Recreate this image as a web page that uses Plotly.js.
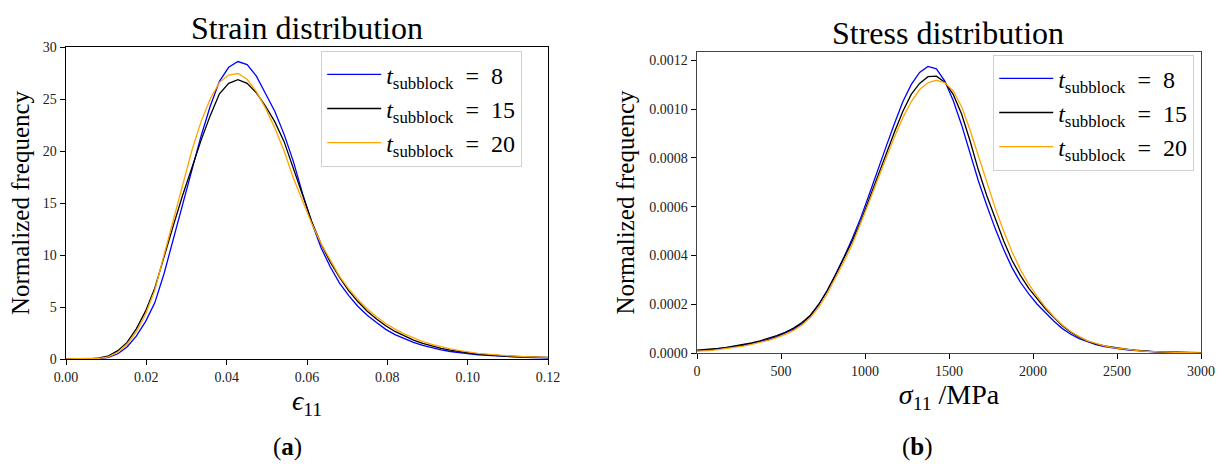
<!DOCTYPE html>
<html>
<head>
<meta charset="utf-8">
<script src="https://cdn.plot.ly/plotly-3.0.1.min.js"></script>
<style>html,body{margin:0;padding:0;background:#fff;}#chart{width:1220px;height:464px;}</style>
</head>
<body>
<div id="chart"></div>
<script>
// ---------- (a) Strain distribution ----------
const strainX = [
  -0.0009, 0.0014, 0.0037, 0.0060, 0.0083, 0.0106, 0.0129, 0.0152, 0.0175, 0.0198,
  0.0221, 0.0244, 0.0267, 0.0290, 0.0313, 0.0336, 0.0359, 0.0382, 0.0405, 0.0428,
  0.0451, 0.0474, 0.0497, 0.0520, 0.0543, 0.0566, 0.0589, 0.0612, 0.0635, 0.0658,
  0.0681, 0.0704, 0.0727, 0.0750, 0.0773, 0.0796, 0.0819, 0.0842, 0.0865, 0.0888,
  0.0911, 0.0934, 0.0957, 0.0980, 0.1003, 0.1026, 0.1049, 0.1072, 0.1095, 0.1118,
  0.1141, 0.1164, 0.1187, 0.1210
];
const strainT8 = [
  0, 0, 0, 0.01, 0.05, 0.15, 0.5, 1.15, 2.2, 3.6,
  5.4, 8.2, 11.5, 14.9, 18.2, 21.4, 24.3, 26.7, 28.05, 28.6,
  28.3, 27.2, 25.5, 23.8, 21.6, 19.0, 15.9, 13.1, 10.7, 8.85,
  7.3, 6.1, 5.05, 4.2, 3.5, 2.85, 2.35, 1.95, 1.6, 1.3,
  1.07, 0.88, 0.72, 0.6, 0.5, 0.41, 0.34, 0.28, 0.23, 0.19,
  0.16, 0.13, 0.11, 0.09
];
const strainT15 = [
  0, 0, 0, 0.02, 0.1, 0.3, 0.8, 1.6, 2.9, 4.6,
  6.8, 9.9, 12.8, 15.7, 18.4, 21.0, 23.4, 25.5, 26.5, 26.85,
  26.5, 25.6, 24.3, 22.8, 20.9, 18.4, 15.7, 13.2, 11.05, 9.3,
  7.85, 6.55, 5.5, 4.6, 3.85, 3.2, 2.65, 2.2, 1.82, 1.5,
  1.24, 1.03, 0.85, 0.7, 0.58, 0.48, 0.4, 0.33, 0.28, 0.24,
  0.2, 0.17, 0.15, 0.13
];
const strainT20 = [
  0, 0, 0, 0.01, 0.07, 0.2, 0.65, 1.4, 2.6, 4.3,
  6.6, 10.0, 13.4, 16.8, 20.0, 22.8, 25.0, 26.6, 27.3, 27.45,
  26.9, 25.7, 24.1, 22.2, 20.0, 17.4, 15.1, 13.0, 11.1, 9.45,
  7.95, 6.75, 5.72, 4.82, 4.07, 3.42, 2.87, 2.42, 2.02, 1.68,
  1.4, 1.17, 0.97, 0.8, 0.66, 0.55, 0.46, 0.38, 0.32, 0.27,
  0.23, 0.2, 0.17, 0.15
];

// ---------- (b) Stress distribution ----------
const stressX = [
  -25, 25, 75, 125, 175, 225, 275, 325, 375, 425,
  475, 525, 575, 625, 675, 725, 775, 825, 875, 925,
  975, 1025, 1075, 1125, 1175, 1225, 1275, 1325, 1375, 1425,
  1475, 1525, 1575, 1625, 1675, 1725, 1775, 1825, 1875, 1925,
  1975, 2025, 2075, 2125, 2175, 2225, 2275, 2325, 2375, 2425,
  2475, 2525, 2575, 2625, 2675, 2725, 2775, 2825, 2875, 2925,
  2975, 3025
];
const stressT8 = [
  0.09e-4, 0.10e-4, 0.13e-4, 0.17e-4, 0.21e-4, 0.26e-4, 0.31e-4, 0.38e-4, 0.46e-4, 0.56e-4,
  0.67e-4, 0.81e-4, 0.98e-4, 1.21e-4, 1.52e-4, 1.98e-4, 2.56e-4, 3.23e-4, 3.93e-4, 4.70e-4,
  5.55e-4, 6.50e-4, 7.50e-4, 8.45e-4, 9.40e-4, 10.30e-4, 11.00e-4, 11.50e-4, 11.75e-4, 11.65e-4,
  11.15e-4, 10.35e-4, 9.35e-4, 8.20e-4, 7.05e-4, 6.05e-4, 5.10e-4, 4.25e-4, 3.50e-4, 2.90e-4,
  2.42e-4, 2.00e-4, 1.63e-4, 1.30e-4, 1.00e-4, 0.77e-4, 0.59e-4, 0.45e-4, 0.34e-4, 0.26e-4,
  0.20e-4, 0.16e-4, 0.12e-4, 0.09e-4, 0.065e-4, 0.045e-4, 0.033e-4, 0.024e-4, 0.017e-4, 0.012e-4,
  0.008e-4, 0.006e-4
];
const stressT15 = [
  0.10e-4, 0.12e-4, 0.15e-4, 0.19e-4, 0.23e-4, 0.28e-4, 0.34e-4, 0.41e-4, 0.50e-4, 0.60e-4,
  0.71e-4, 0.85e-4, 1.02e-4, 1.25e-4, 1.55e-4, 2.00e-4, 2.55e-4, 3.20e-4, 3.88e-4, 4.60e-4,
  5.40e-4, 6.32e-4, 7.25e-4, 8.15e-4, 9.05e-4, 9.90e-4, 10.60e-4, 11.05e-4, 11.33e-4, 11.35e-4,
  11.10e-4, 10.60e-4, 9.80e-4, 8.70e-4, 7.50e-4, 6.45e-4, 5.50e-4, 4.60e-4, 3.80e-4, 3.18e-4,
  2.65e-4, 2.20e-4, 1.80e-4, 1.45e-4, 1.12e-4, 0.85e-4, 0.65e-4, 0.49e-4, 0.37e-4, 0.29e-4,
  0.23e-4, 0.18e-4, 0.14e-4, 0.11e-4, 0.075e-4, 0.055e-4, 0.04e-4, 0.03e-4, 0.02e-4, 0.015e-4,
  0.01e-4, 0.01e-4
];
const stressT20 = [
  0.07e-4, 0.08e-4, 0.10e-4, 0.14e-4, 0.18e-4, 0.23e-4, 0.28e-4, 0.35e-4, 0.43e-4, 0.52e-4,
  0.63e-4, 0.76e-4, 0.93e-4, 1.15e-4, 1.45e-4, 1.88e-4, 2.43e-4, 3.07e-4, 3.75e-4, 4.47e-4,
  5.30e-4, 6.20e-4, 7.10e-4, 7.98e-4, 8.85e-4, 9.65e-4, 10.30e-4, 10.80e-4, 11.08e-4, 11.18e-4,
  11.08e-4, 10.75e-4, 10.10e-4, 9.15e-4, 8.05e-4, 6.95e-4, 5.95e-4, 5.00e-4, 4.15e-4, 3.42e-4,
  2.82e-4, 2.32e-4, 1.87e-4, 1.48e-4, 1.15e-4, 0.88e-4, 0.67e-4, 0.50e-4, 0.38e-4, 0.29e-4,
  0.22e-4, 0.17e-4, 0.13e-4, 0.10e-4, 0.07e-4, 0.05e-4, 0.036e-4, 0.026e-4, 0.018e-4, 0.013e-4,
  0.009e-4, 0.007e-4
];

const seriesNames = [
  '<i>t</i><sub>subblock</sub>\u2002=\u20028',
  '<i>t</i><sub>subblock</sub>\u2002=\u200215',
  '<i>t</i><sub>subblock</sub>\u2002=\u200220'
];
const seriesColors = ['#0000ff', '#000000', '#ffa500'];

const FONT = 'Liberation Serif, DejaVu Serif, serif';
const strainSets = [strainT8, strainT15, strainT20];
const stressSets = [stressT8, stressT15, stressT20];

const traces = [];
strainSets.forEach((ys, i) => traces.push({
  type: 'scatter', mode: 'lines', x: strainX, y: ys, name: seriesNames[i],
  line: {color: seriesColors[i], width: 1.3}, xaxis: 'x', yaxis: 'y', legend: 'legend'
}));
stressSets.forEach((ys, i) => traces.push({
  type: 'scatter', mode: 'lines', x: stressX, y: ys, name: seriesNames[i],
  line: {color: seriesColors[i], width: 1.3}, xaxis: 'x2', yaxis: 'y2', legend: 'legend2'
}));

function axisBase(lineColor) {
  return {
    ticks: 'outside', ticklen: 5, tickwidth: 1, tickcolor: '#000',
    showline: true, mirror: true, linecolor: lineColor, linewidth: 1.4,
    showgrid: false, zeroline: false,
    tickfont: {family: FONT, size: 14, color: '#222'}
  };
}

const legendStyle = {
  xanchor: 'left', yanchor: 'top', bgcolor: 'rgba(255,255,255,0.85)',
  bordercolor: '#d0d0d0', borderwidth: 1.2, itemwidth: 54,
  font: {family: FONT, size: 24, color: '#000'}, tracegroupgap: 0
};

const layout = {
  width: 1220, height: 464,
  margin: {l: 0, r: 0, t: 0, b: 0},
  paper_bgcolor: '#fff', plot_bgcolor: '#fff',
  font: {family: FONT, color: '#000'},
  showlegend: true,
  xaxis: Object.assign(axisBase('#000'), {
    domain: [66 / 1220, 548 / 1220], anchor: 'y', range: [0, 0.12],
    tick0: 0, dtick: 0.02, tickformat: '.2f',
    title: {text: '<i>ϵ</i><sub>11</sub>', font: {family: FONT, size: 28}, standoff: 6}
  }),
  yaxis: Object.assign(axisBase('#000'), {
    domain: [1 - 359 / 464, 1 - 47 / 464], anchor: 'x', range: [0, 30],
    tick0: 0, dtick: 5,
    title: {text: 'Normalized frequency', font: {family: FONT, size: 25}, standoff: 6}
  }),
  xaxis2: Object.assign(axisBase('#444'), {
    domain: [697 / 1220, 1201 / 1220], anchor: 'y2', range: [0, 3000],
    tick0: 0, dtick: 500,
    title: {text: '<i>σ</i><sub>11</sub> /MPa', font: {family: FONT, size: 28}, standoff: 6}
  }),
  yaxis2: Object.assign(axisBase('#444'), {
    domain: [1 - 353 / 464, 1 - 52 / 464], anchor: 'x2', range: [0, 0.001234],
    tick0: 0, dtick: 0.0002, tickformat: '.4f',
    title: {text: 'Normalized frequency', font: {family: FONT, size: 25}, standoff: 7}
  }),
  legend: Object.assign({}, legendStyle, {x: 321 / 1220, y: 1 - 51 / 464}),
  legend2: Object.assign({}, legendStyle, {x: 993 / 1220, y: 1 - 55 / 464}),
  annotations: [
    {text: 'Strain distribution', xref: 'paper', yref: 'paper', x: 307 / 1220, y: 1 - 28 / 464,
     xanchor: 'center', yanchor: 'middle', showarrow: false, font: {family: FONT, size: 32, color: '#000'}},
    {text: 'Stress distribution', xref: 'paper', yref: 'paper', x: 948 / 1220, y: 1 - 33 / 464,
     xanchor: 'center', yanchor: 'middle', showarrow: false, font: {family: FONT, size: 32, color: '#000'}},
    {text: '(<b>a</b>)', xref: 'paper', yref: 'paper', x: 287 / 1220, y: 1 - 447 / 464,
     xanchor: 'center', yanchor: 'middle', showarrow: false, font: {family: FONT, size: 25, color: '#000'}},
    {text: '(<b>b</b>)', xref: 'paper', yref: 'paper', x: 917 / 1220, y: 1 - 447 / 464,
     xanchor: 'center', yanchor: 'middle', showarrow: false, font: {family: FONT, size: 25, color: '#000'}}
  ]
};

Plotly.newPlot('chart', traces, layout, {staticPlot: true, displayModeBar: false});
</script>
</body>
</html>
